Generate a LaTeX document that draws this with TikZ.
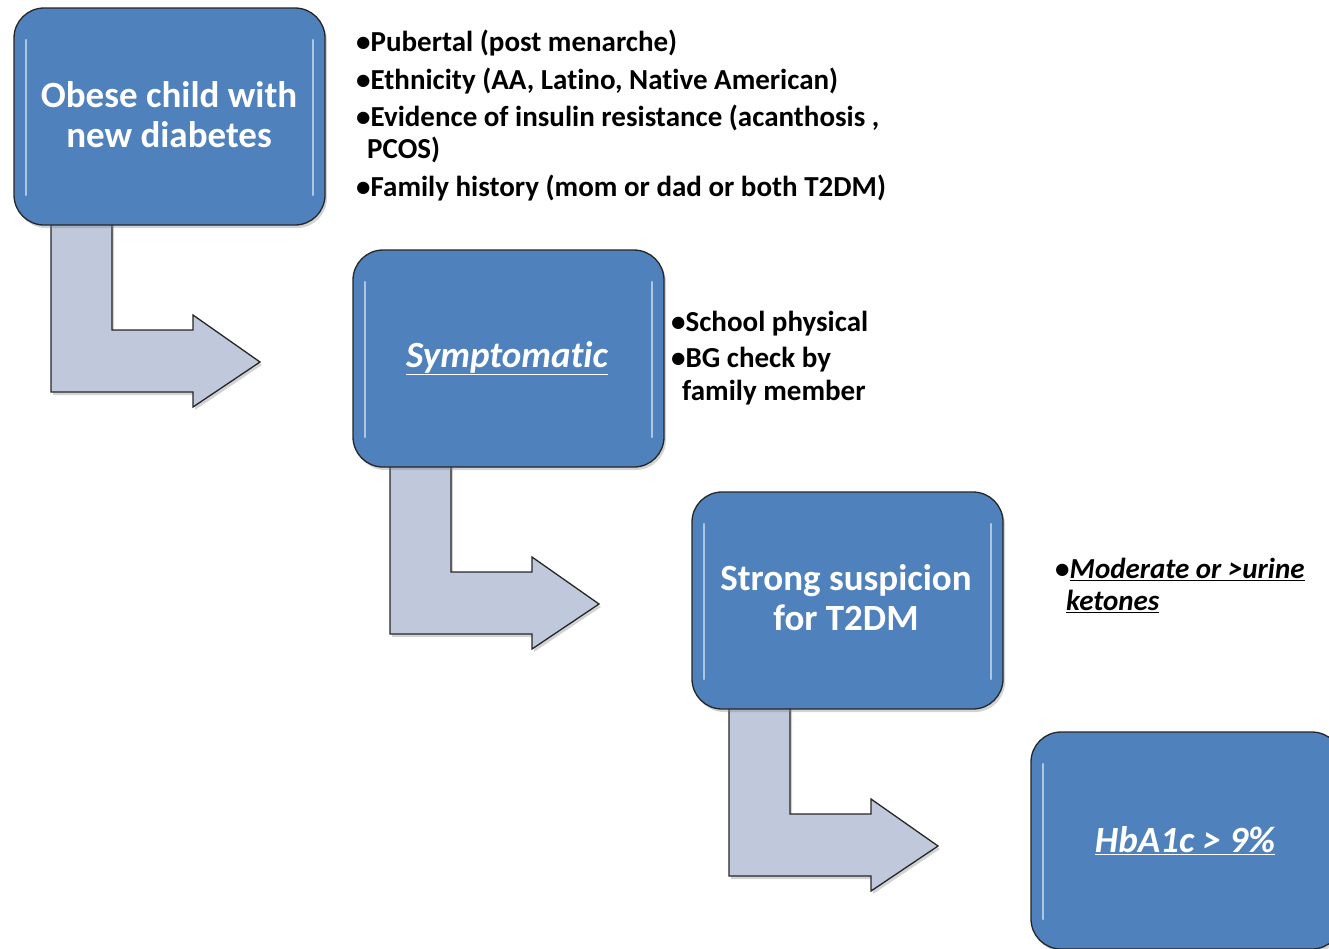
\documentclass[tikz,border=0pt]{standalone}
\usepackage{fontspec}
\setmainfont[Ligatures=NoCommon]{Carlito}
\usetikzlibrary{shadows}
\definecolor{boxblue}{RGB}{79,129,189}
\definecolor{arrowfill}{RGB}{192,201,220}
\tikzset{
  stepbox/.style={draw=black!85, line width=1.3pt, fill=boxblue, rounded corners=30pt,
    drop shadow={shadow xshift=2pt, shadow yshift=-3pt, opacity=0.35}},
  bentarrow/.style={draw=black!85, line width=1.3pt, fill=arrowfill, line join=miter,
    drop shadow={shadow xshift=2pt, shadow yshift=-3pt, opacity=0.35}},
  gloss/.style={white, opacity=0.55, line width=2.5pt, line cap=round},
  boxtext/.style={text=white, font=\fontsize{37}{40}\selectfont\bfseries, align=center},
  bul/.style={anchor=mid west, inner sep=0pt, font=\fontsize{29}{31}\selectfont\bfseries, text=black},
}
\newcommand{\bentarr}[3]{%
  \path[bentarrow] (#1+51,#2+215) -- (#1+112,#2+215) -- (#1+112,#2+330) -- (#1+193,#2+330)
    -- (#1+193,#2+315) -- (#1+260,#2+362) coordinate (#3) -- (#1+193,#2+407) -- (#1+193,#2+392)
    -- (#1+51,#2+392) -- cycle;}
\newcommand{\stepbx}[3]{%
  \draw[stepbox] (#1+14,#2+8) rectangle (#1+325,#2+225);
  \coordinate (#3) at (#1+169.5,#2+116.5);
  \draw[gloss] (#1+26,#2+40) -- (#1+26,#2+195);
  \draw[gloss] (#1+313,#2+40) -- (#1+313,#2+195);}
\begin{document}
\begin{tikzpicture}[x=1pt,y=-1pt]
\useasboundingbox (0,0) rectangle (1329,948);
\begin{scope}
\clip (0,0) rectangle (1329,948);
% arrows (behind boxes)
\bentarr{0}{0}{a1}
\bentarr{339}{242}{a2}
\bentarr{678}{484}{a3}
% boxes
\stepbx{0}{0}{b1}
\stepbx{339}{242}{b2}
\stepbx{678}{484}{b3}
\stepbx{1017}{724}{b4}
\end{scope}
\node[boxtext] (t1) at (169,115) {Obese child with\\new diabetes};
\node[boxtext] (t2) at (507,358) {\itshape\underline{Symptomatic}};
\node[boxtext] (t3) at (846,598) {Strong suspicion\\for T2DM};
\node[boxtext] (t4) at (1185,841) {\itshape\underline{HbA1c > 9\%}};
% bullet list 1
\node[bul] (l1) at (356,49) {•Pubertal (post menarche)};
\node[bul] (l2) at (356,87) {•Ethnicity (AA, Latino, Native American)};
\node[bul] (l3) at (356,124) {•Evidence of insulin resistance (acanthosis ,};
\node[bul] (l4) at (367,156) {PCOS)};
\node[bul] (l5) at (356,194) {•Family history (mom or dad or both T2DM)};
% bullet list 2
\node[bul] (m1) at (671,329) {•School physical};
\node[bul] (m2) at (671,365) {•BG check by};
\node[bul] (m3) at (682,398) {family member};
% bullet list 3
\node[bul] (n1) at (1055,576) {•\itshape\underline{Moderate or >urine}};
\node[bul] (n2) at (1066,608) {\itshape\underline{ketones}};
\end{tikzpicture}
\end{document}
